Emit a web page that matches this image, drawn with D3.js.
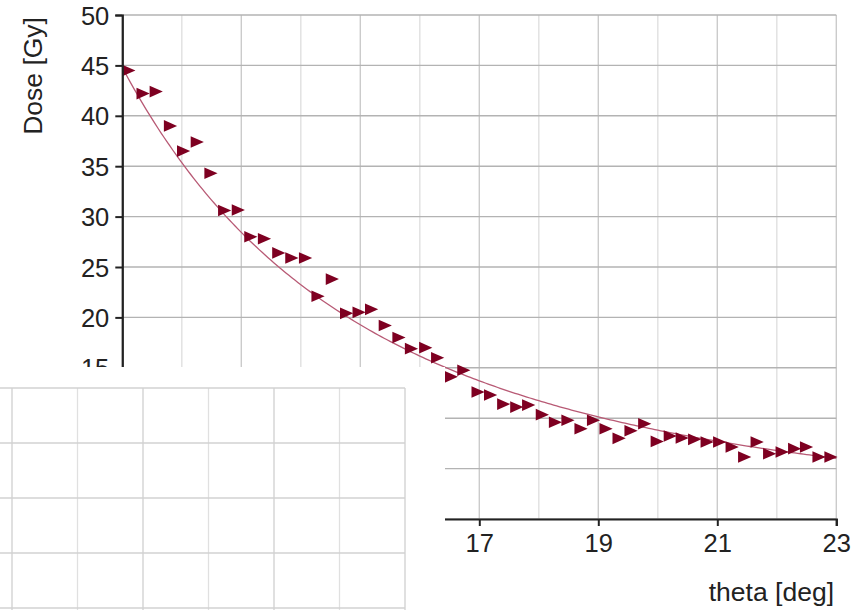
<!DOCTYPE html>
<html>
<head>
<meta charset="utf-8">
<script src="https://cdn.jsdelivr.net/npm/d3@7"></script>
<style>
  html, body { margin: 0; padding: 0; background: #fff; }
  svg { display: block; font-family: "Liberation Sans", Arial, sans-serif; }
</style>
</head>
<body>
<svg id="chart" width="866" height="610"></svg>
<script>
// Measured dose versus angle
const theta = [11.11, 11.35, 11.57, 11.81, 12.03, 12.26, 12.49, 12.72, 12.95, 13.16,
               13.39, 13.63, 13.85, 14.08, 14.29, 14.53, 14.77, 14.98, 15.19, 15.42,
               15.65, 15.86, 16.10, 16.30, 16.53, 16.74, 16.98, 17.19, 17.41, 17.63,
               17.83, 18.06, 18.28, 18.49, 18.71, 18.92, 19.13, 19.35, 19.55, 19.78,
               19.99, 20.21, 20.41, 20.62, 20.83, 21.04, 21.25, 21.46, 21.67, 21.88,
               22.09, 22.30, 22.50, 22.71, 22.91];
const dose = [44.5, 42.2, 42.4, 39.0, 36.5, 37.4, 34.3, 30.6, 30.65, 28.0,
              27.8, 26.4, 25.9, 25.9, 22.1, 23.8, 20.4, 20.5, 20.8, 19.2,
              18.0, 16.9, 17.0, 16.0, 14.1, 14.75, 12.6, 12.3, 11.4, 11.1,
              11.3, 10.35, 9.6, 9.8, 8.95, 9.8, 8.95, 8.0, 8.76, 9.45,
              7.7, 8.23, 8.04, 7.9, 7.64, 7.64, 7.14, 6.15, 7.64, 6.48,
              6.65, 6.98, 7.14, 6.15, 6.15];

// Power trend line: dose = trendCoef * theta ^ trendExp
const trendCoef = 30464;
const trendExp = -2.72;
const trendRange = [11, 23];

const xTickLabels = [11, 13, 15, 17, 19, 21, 23];
const xMinorTicks = [12, 14, 16, 18, 20, 22];
const yTickLabels = [0, 5, 10, 15, 20, 25, 30, 35, 40, 45, 50];

const svg = d3.select("#chart");

const x = d3.scaleLinear().domain([11, 23]).range([122.3, 836.3]);
const y = d3.scaleLinear().domain([0, 50]).range([519, 15]);

// grid
const grid = svg.append("g");
grid.selectAll("line.minor").data(xMinorTicks).join("line")
  .attr("x1", d => x(d)).attr("x2", d => x(d))
  .attr("y1", y(0)).attr("y2", y(50))
  .attr("stroke", "#e0e0e0").attr("stroke-width", 1.4);
grid.selectAll("line.vmajor").data(xTickLabels).join("line")
  .attr("x1", d => x(d)).attr("x2", d => x(d))
  .attr("y1", y(0)).attr("y2", y(50))
  .attr("stroke", "#cbcbcb").attr("stroke-width", 1.4);
grid.selectAll("line.h").data(yTickLabels).join("line")
  .attr("x1", x(11)).attr("x2", x(23))
  .attr("y1", d => y(d)).attr("y2", d => y(d))
  .attr("stroke", "#b3b3b3").attr("stroke-width", 1.4);

// trend line
const trendX = d3.ticks(trendRange[0], trendRange[1], 200);
const line = d3.line().x(d => x(d)).y(d => y(trendCoef * Math.pow(d, trendExp)));
svg.append("path").datum(trendX).attr("d", line)
  .attr("fill", "none").attr("stroke", "#b85a75").attr("stroke-width", 1.3);

// markers: right-pointing triangles
svg.append("g").selectAll("path").data(theta).join("path")
  .attr("transform", (d, i) => `translate(${x(d)},${y(dose[i])})`)
  .attr("d", "M-6.6,-5.8L6.6,0L-6.6,5.8Z")
  .attr("fill", "#7e0021");

// axes
const xAxis = svg.append("g").attr("transform", `translate(0,${y(0)})`)
  .call(d3.axisBottom(x).tickValues(xTickLabels).tickSize(7).tickPadding(8).tickFormat(d3.format("d")));
const yAxis = svg.append("g").attr("transform", `translate(${x(11)},0)`)
  .call(d3.axisLeft(y).tickValues(yTickLabels).tickSize(7).tickPadding(6).tickFormat(d3.format("d")));
[xAxis, yAxis].forEach(a => {
  a.select(".domain").attr("stroke", "#222").attr("stroke-width", 2.2);
  a.selectAll(".tick line").attr("stroke", "#222").attr("stroke-width", 2);
  a.selectAll(".tick text").attr("fill", "#222")
    .style("font-family", '"Liberation Sans", Arial, sans-serif').style("font-size", "25.5px");
});
xAxis.selectAll(".tick text").attr("dy", "0.72em");
yAxis.selectAll(".tick text").attr("dy", "0.36em");

// axis titles
svg.append("text").attr("x", 834).attr("y", 601).attr("text-anchor", "end")
  .attr("fill", "#222").style("font-size", "26.5px").text("theta [deg]");
svg.append("text").attr("transform", "translate(42,17) rotate(-90)").attr("text-anchor", "end")
  .attr("fill", "#222").style("font-size", "26.5px").text("Dose [Gy]");

// inset panel in the lower-left corner
const inset = svg.append("g");
inset.append("rect").attr("x", 0).attr("y", 367).attr("width", 445).attr("height", 243).attr("fill", "#fff");
const ix = d3.scaleLinear().domain([0, 6]).range([12, 405]);
const iy = d3.scaleLinear().domain([0, 4]).range([388, 608]);
inset.selectAll("line.iv").data(d3.range(0, 7)).join("line")
  .attr("x1", d => ix(d)).attr("x2", d => ix(d))
  .attr("y1", iy(0)).attr("y2", 610)
  .attr("stroke", d => d % 2 === 0 ? "#cfcfcf" : "#e0e0e0").attr("stroke-width", 1.3);
inset.selectAll("line.ih").data(d3.range(0, 5)).join("line")
  .attr("x1", 0).attr("x2", ix(6))
  .attr("y1", d => iy(d)).attr("y2", d => iy(d))
  .attr("stroke", "#d2d2d2").attr("stroke-width", 1.3);
</script>
</body>
</html>
